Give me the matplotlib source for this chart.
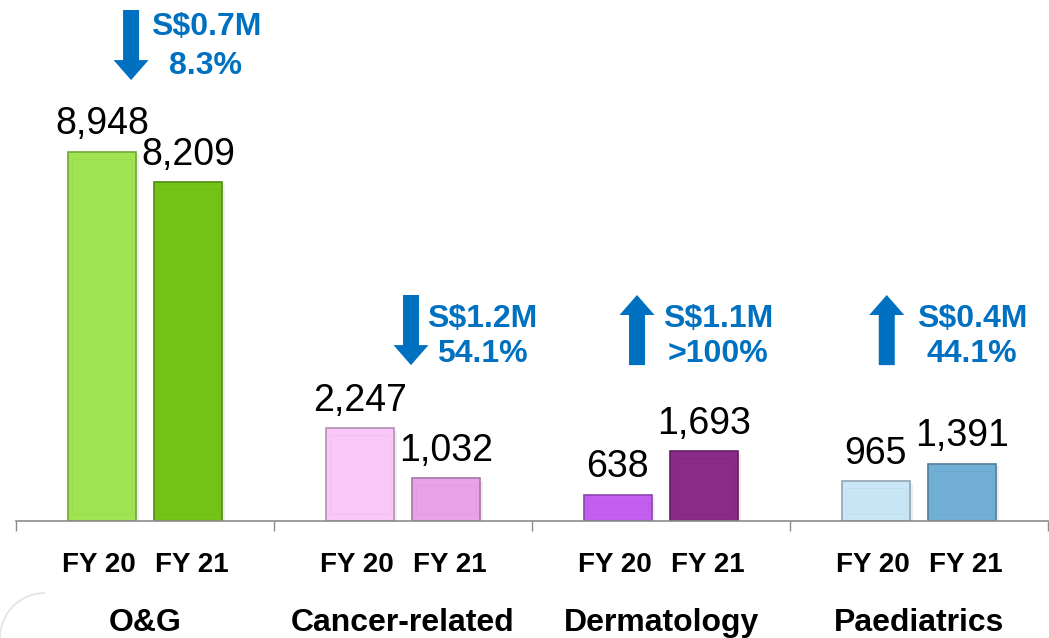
import matplotlib.pyplot as plt
import matplotlib.patches as mpatches
import numpy as np

plt.rcParams['font.family'] = ['Liberation Sans', 'DejaVu Sans']

# data
categories = ['O&G', 'Cancer-related', 'Dermatology', 'Paediatrics']
years = ['FY 20', 'FY 21']
fy20 = [8948, 2247, 638, 965]
fy21 = [8209, 1032, 1693, 1391]
change_amt = ['S$0.7M', 'S$1.2M', 'S$1.1M', 'S$0.4M']
change_pct = ['8.3%', '54.1%', '>100%', '44.1%']
change_dir = ['down', 'down', 'up', 'up']

col20 = ['#A0E451', '#F9C8F9', '#C35EF0', '#C8E6F6']
col21 = ['#74C317', '#E8A3E6', '#8A2B88', '#72AFD5']
blue = '#0070C0'


def shade(c, f):
    r, g, b = plt.matplotlib.colors.to_rgb(c)
    return (r * f, g * f, b * f)


fig = plt.figure(figsize=(10.49, 6.38), dpi=100)
ax = fig.add_axes([16 / 1049, 117 / 638, 1032 / 1049, 521 / 638])
ax.set_xlim(0, 4)
ax.set_ylim(0, 12633)

x = np.arange(len(categories)) + 0.5
off = 0.167
w = 0.264

for xs, vals, cols in [(x - off, fy20, col20), (x + off, fy21, col21)]:
    # soft shadow
    ax.bar(xs + 0.012, vals, w, bottom=-60, color='#000000', alpha=0.07, zorder=1)
    bars = ax.bar(xs, vals, w, color=cols, zorder=2,
                  edgecolor=[shade(c, 0.72) for c in cols], linewidth=1.2)
    # subtle bevel
    for b, c in zip(bars, cols):
        bx, bw, bh = b.get_x(), b.get_width(), b.get_height()
        ix = bw * 0.06
        iy = 7 / 0.04124
        ax.add_patch(mpatches.Rectangle((bx + ix, iy), bw - 2 * ix, bh - 2 * iy,
                                        facecolor='none', edgecolor=shade(c, 0.96),
                                        linewidth=0.6, zorder=3))
    for xi, v in zip(xs, vals):
        ax.text(xi, v + 230, f'{v:,}', ha='center', va='bottom',
                fontsize=27, color='black', zorder=4)

# FY labels and category names below the axis
trans = ax.get_xaxis_transform()
lab_off = 0.18
for i, c in enumerate(categories):
    ax.text(x[i] - lab_off, -0.085, years[0], transform=trans, ha='center', va='center',
            fontsize=20, fontweight='bold')
    ax.text(x[i] + lab_off, -0.085, years[1], transform=trans, ha='center', va='center',
            fontsize=20, fontweight='bold')
    ax.text(x[i], -0.195, c, transform=trans, ha='center', va='center',
            fontsize=23, fontweight='bold')

# change annotations
arrow_x = [0.446, 1.531, 2.407, 3.375]
text_x = [0.736, 1.806, 2.720, 3.706]
arrow_top = [12391, 5480, 5480, 5480]
arrow_len = 1700
amt_y = [11979, 4900, 4900, 4900]
pct_y = [11033, 4050, 4050, 4050]
for i in range(len(categories)):
    if change_dir[i] == 'down':
        y0, dy = arrow_top[i], -arrow_len
    else:
        y0, dy = arrow_top[i] - arrow_len, arrow_len
    ax.add_patch(mpatches.FancyArrow(arrow_x[i], y0, 0, dy, width=16 / 258,
                                     head_width=35 / 258, head_length=20 / 0.04124,
                                     length_includes_head=True, color=blue,
                                     linewidth=0, zorder=4))
    ax.text(text_x[i], amt_y[i], change_amt[i], ha='center', va='center',
            color=blue, fontsize=23, fontweight='bold')
    ax.text(text_x[i], pct_y[i], change_pct[i], ha='center', va='center',
            color=blue, fontsize=23, fontweight='bold')

for s in ['top', 'left', 'right']:
    ax.spines[s].set_visible(False)
ax.spines['bottom'].set_color('#8C8C8C')
ax.spines['bottom'].set_linewidth(1.2)
ax.set_yticks([])
ax.set_xticks(np.arange(0, 5))
ax.set_xticklabels([])
ax.tick_params(axis='x', direction='out', length=7, width=1, color='#8C8C8C')

# faint slide border corner
fig.add_artist(mpatches.Arc((45 / 1049, 0.0), 90 / 1049, 90 / 638,
                            theta1=90, theta2=180, transform=fig.transFigure,
                            color='#E3E3E3', linewidth=1.2))

fig.savefig('out.png', dpi=100)
